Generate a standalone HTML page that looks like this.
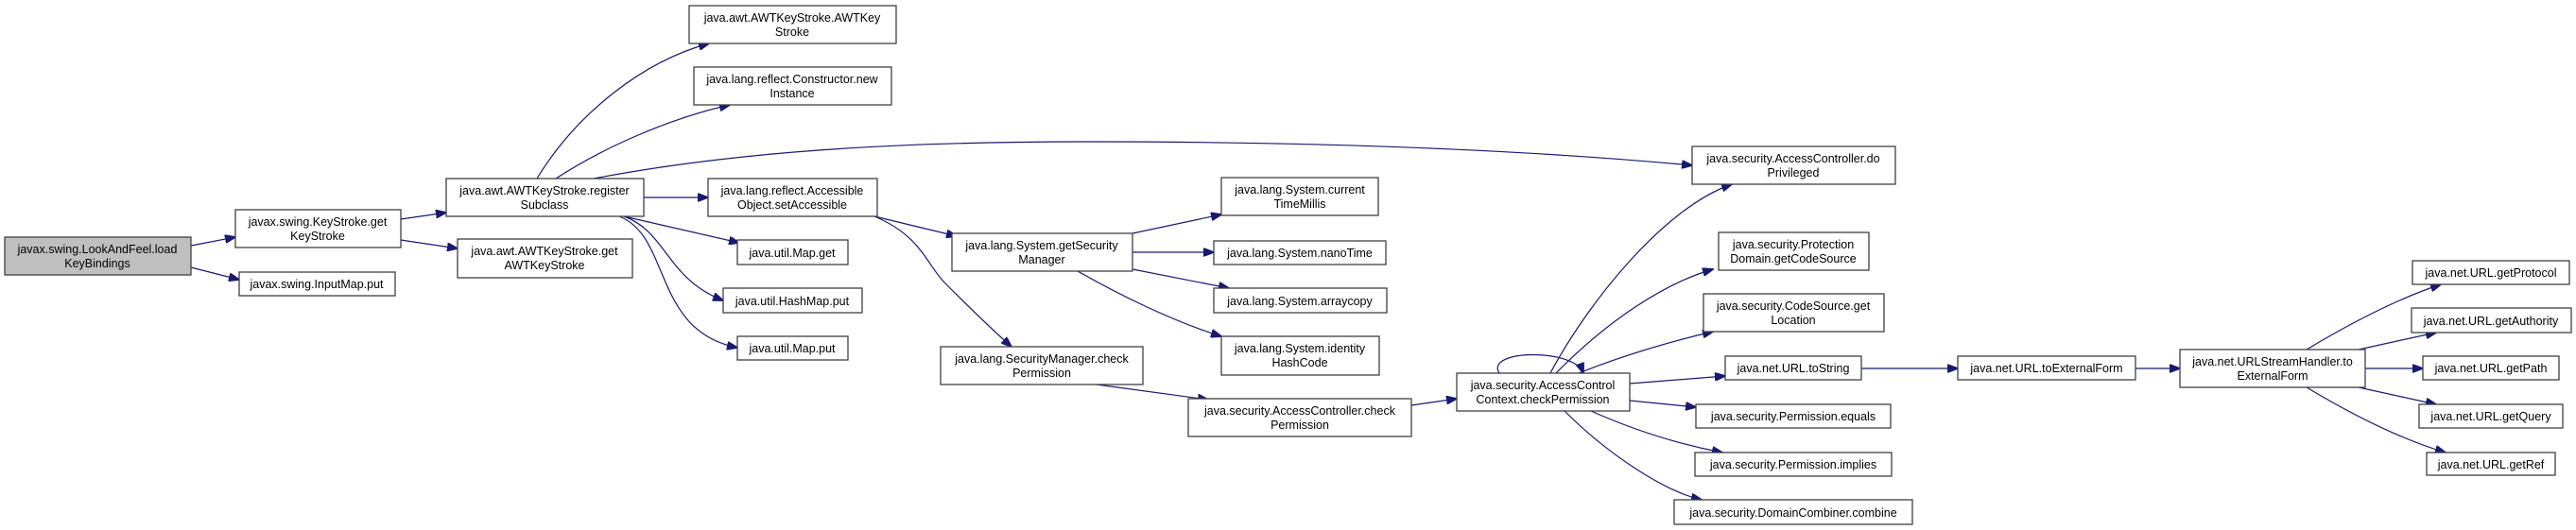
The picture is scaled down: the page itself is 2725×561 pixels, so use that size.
<!DOCTYPE html>
<html><head><meta charset="utf-8"><style>
html,body{margin:0;padding:0;background:#fff;}
svg{display:block;}
text{font-family:"Liberation Sans",Arial,sans-serif;font-size:12.5px;fill:#000;text-anchor:middle;}
.n{fill:#fff;stroke:#404040;stroke-width:1.3;}
.e{fill:none;stroke:#191970;stroke-width:1.2;marker-end:url(#a);}
</style></head><body>
<svg width="2725" height="561" viewBox="0 0 2725 561" xmlns="http://www.w3.org/2000/svg">
<defs><marker id="a" markerWidth="12" markerHeight="9" refX="11" refY="4.5" orient="auto" markerUnits="userSpaceOnUse"><path d="M0,0 L12,4.5 L0,9 z" fill="#191970" stroke="#191970"/></marker></defs>

<!-- edges -->
<path class="e" d="M202,260 L249,251"/>
<path class="e" d="M202,283 L253,296"/>
<path class="e" d="M424,232 L472,225"/>
<path class="e" d="M424,254 L484,263"/>
<path class="e" d="M568,189 C610,120 680,65 750,46"/>
<path class="e" d="M588,189 C640,155 710,125 772,111"/>
<path class="e" d="M628,189 C780,160 950,150 1150,150 C1450,150 1650,162 1790,175"/>
<path class="e" d="M681,209 L749,209"/>
<path class="e" d="M660,229 L782,257"/>
<path class="e" d="M660,229 C705,245 705,295 765,318"/>
<path class="e" d="M655,229 C710,250 690,350 780,368"/>
<path class="e" d="M925,229 L1012,250"/>
<path class="e" d="M925,229 C975,250 980,280 1000,300 C1020,320 1045,345 1070,367"/>
<path class="e" d="M1198,247 L1292,227"/>
<path class="e" d="M1198,267 L1284,267"/>
<path class="e" d="M1198,285 L1300,305"/>
<path class="e" d="M1140,287 C1180,310 1240,340 1292,356"/>
<path class="e" d="M1160,407 L1278,423"/>
<path class="e" d="M1493,429 L1541,422"/>
<path class="e" d="M1586,395 C1570,370 1665,368 1675,395"/>
<path class="e" d="M1640,395 C1680,320 1760,220 1832,195"/>
<path class="e" d="M1646,395 C1700,340 1760,300 1812,285"/>
<path class="e" d="M1670,395 C1720,375 1765,362 1812,351"/>
<path class="e" d="M1724,406 L1825,398"/>
<path class="e" d="M1724,424 L1794,431"/>
<path class="e" d="M1683,435 C1730,456 1775,470 1822,479"/>
<path class="e" d="M1655,435 C1700,480 1760,520 1800,529"/>
<path class="e" d="M1969,390 L2071,390"/>
<path class="e" d="M2259,390 L2306,390"/>
<path class="e" d="M2440,370 C2490,340 2540,315 2582,301"/>
<path class="e" d="M2495,370 L2577,352"/>
<path class="e" d="M2502,390 L2563,390"/>
<path class="e" d="M2495,410 L2577,428"/>
<path class="e" d="M2440,410 C2490,440 2540,465 2587,479"/>

<!-- nodes -->
<rect x="5" y="251" width="197" height="40" style="fill:#bfbfbf;stroke:#404040;stroke-width:1.3"/>
<text x="103" y="268">javax.swing.LookAndFeel.load</text><text x="103" y="283">KeyBindings</text>

<rect class="n" x="249" y="222" width="175" height="40"/>
<text x="336" y="239">javax.swing.KeyStroke.get</text><text x="336" y="254">KeyStroke</text>

<rect class="n" x="253" y="288" width="165" height="25"/>
<text x="335" y="305">javax.swing.InputMap.put</text>

<rect class="n" x="472" y="189" width="209" height="40"/>
<text x="576" y="206">java.awt.AWTKeyStroke.register</text><text x="576" y="221">Subclass</text>

<rect class="n" x="484" y="253" width="185" height="41"/>
<text x="576" y="270">java.awt.AWTKeyStroke.get</text><text x="576" y="285">AWTKeyStroke</text>

<rect class="n" x="729" y="6" width="219" height="40"/>
<text x="838" y="23">java.awt.AWTKeyStroke.AWTKey</text><text x="838" y="38">Stroke</text>

<rect class="n" x="734" y="71" width="209" height="40"/>
<text x="838" y="88">java.lang.reflect.Constructor.new</text><text x="838" y="103">Instance</text>

<rect class="n" x="749" y="189" width="179" height="40"/>
<text x="838" y="206">java.lang.reflect.Accessible</text><text x="838" y="221">Object.setAccessible</text>

<rect class="n" x="780" y="254" width="117" height="26"/>
<text x="838" y="272">java.util.Map.get</text>

<rect class="n" x="765" y="305" width="147" height="26"/>
<text x="838" y="323">java.util.HashMap.put</text>

<rect class="n" x="780" y="356" width="117" height="25"/>
<text x="838" y="373">java.util.Map.put</text>

<rect class="n" x="1007" y="247" width="191" height="40"/>
<text x="1102" y="264">java.lang.System.getSecurity</text><text x="1102" y="279">Manager</text>

<rect class="n" x="995" y="367" width="214" height="40"/>
<text x="1102" y="384">java.lang.SecurityManager.check</text><text x="1102" y="399">Permission</text>

<rect class="n" x="1292" y="188" width="166" height="40"/>
<text x="1375" y="205">java.lang.System.current</text><text x="1375" y="220">TimeMillis</text>

<rect class="n" x="1284" y="255" width="182" height="25"/>
<text x="1375" y="272">java.lang.System.nanoTime</text>

<rect class="n" x="1284" y="305" width="183" height="26"/>
<text x="1375" y="323">java.lang.System.arraycopy</text>

<rect class="n" x="1292" y="356" width="167" height="41"/>
<text x="1375" y="373">java.lang.System.identity</text><text x="1375" y="388">HashCode</text>

<rect class="n" x="1257" y="422" width="236" height="40"/>
<text x="1375" y="439">java.security.AccessController.check</text><text x="1375" y="454">Permission</text>

<rect class="n" x="1541" y="395" width="183" height="40"/>
<text x="1632" y="412">java.security.AccessControl</text><text x="1632" y="427">Context.checkPermission</text>

<rect class="n" x="1790" y="155" width="215" height="40"/>
<text x="1897" y="172">java.security.AccessController.do</text><text x="1897" y="187">Privileged</text>

<rect class="n" x="1818" y="246" width="159" height="40"/>
<text x="1897" y="263">java.security.Protection</text><text x="1897" y="278">Domain.getCodeSource</text>

<rect class="n" x="1802" y="311" width="191" height="40"/>
<text x="1897" y="328">java.security.CodeSource.get</text><text x="1897" y="343">Location</text>

<rect class="n" x="1825" y="377" width="144" height="25"/>
<text x="1897" y="394">java.net.URL.toString</text>

<rect class="n" x="1794" y="428" width="206" height="25"/>
<text x="1897" y="445">java.security.Permission.equals</text>

<rect class="n" x="1793" y="479" width="208" height="25"/>
<text x="1897" y="496">java.security.Permission.implies</text>

<rect class="n" x="1771" y="529" width="252" height="26"/>
<text x="1897" y="547">java.security.DomainCombiner.combine</text>

<rect class="n" x="2071" y="377" width="188" height="25"/>
<text x="2165" y="394">java.net.URL.toExternalForm</text>

<rect class="n" x="2306" y="370" width="196" height="40"/>
<text x="2404" y="387">java.net.URLStreamHandler.to</text><text x="2404" y="402">ExternalForm</text>

<rect class="n" x="2552" y="276" width="166" height="25"/>
<text x="2635" y="293">java.net.URL.getProtocol</text>

<rect class="n" x="2551" y="326" width="169" height="26"/>
<text x="2635" y="344">java.net.URL.getAuthority</text>

<rect class="n" x="2563" y="377" width="144" height="25"/>
<text x="2635" y="394">java.net.URL.getPath</text>

<rect class="n" x="2559" y="428" width="152" height="25"/>
<text x="2635" y="445">java.net.URL.getQuery</text>

<rect class="n" x="2567" y="479" width="136" height="24"/>
<text x="2635" y="496">java.net.URL.getRef</text>
</svg>
</body></html>
